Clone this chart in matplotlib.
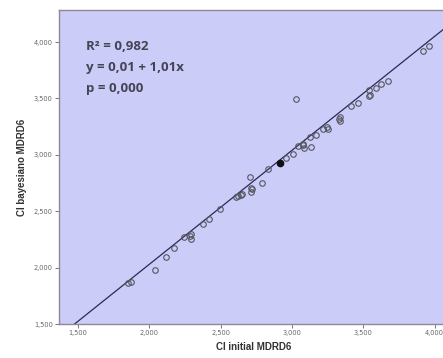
import matplotlib
matplotlib.use("Agg")
import matplotlib.pyplot as plt
import matplotlib.ticker as mticker
import numpy as np

# Data
x_initial = [1849, 1873, 2038, 2116, 2172, 2245, 2290, 2292, 2288, 2373, 2415, 2498,
             2608, 2622, 2640, 2651, 2705, 2710, 2712, 2722, 2792, 2832, 2958, 3009,
             3028, 3040, 3080, 3084, 3076, 3127, 3130, 3165, 3219, 3248, 3252,
             3335, 3338, 3330, 3417, 3465, 3542, 3542, 3547, 3590, 3623, 3670, 3920, 3960]
y_bayes = [1863, 1875, 1983, 2096, 2175, 2269, 2296, 2258, 2281, 2384, 2429, 2520,
           2626, 2634, 2642, 2650, 2803, 2703, 2673, 2694, 2753, 2871, 2968, 3009,
           3499, 3077, 3100, 3062, 3085, 3160, 3068, 3175, 3225, 3245, 3230,
           3334, 3304, 3322, 3431, 3458, 3573, 3520, 3534, 3593, 3628, 3652, 3917, 3962]
x_filled = [2917]
y_filled = [2924]
intercept = 10.0
slope = 1.01
stats_lines = ["R\u00b2 = 0,982", "y = 0,01 + 1,01x", "p = 0,000"]
x_ticks = [1500, 2000, 2500, 3000, 3500, 4000]
y_ticks = [1500, 2000, 2500, 3000, 3500, 4000]

fig = plt.figure(figsize=(4.43, 3.58), dpi=100)
ax = fig.add_axes([59/443, 1-324/358, 1-59/443+0.01, (324-10)/358])
ax.set_facecolor("#ccccf8")
ax.set_xlim(1366, 4090)
ax.set_ylim(1500, 4284)

xs = np.array(ax.get_xlim())
ax.plot(xs, intercept + slope * xs, color="#2a2a55", lw=0.9, zorder=2)

ax.plot(x_initial, y_bayes, linestyle="none", marker="o", markersize=4.0,
        markerfacecolor="none", markeredgecolor="#555560", markeredgewidth=0.8, zorder=3)
ax.plot(x_filled, y_filled, linestyle="none", marker="o", markersize=4.5,
        markerfacecolor="#111111", markeredgecolor="#111111", zorder=4)

fmt = mticker.FuncFormatter(lambda v, p: f"{int(v):,}")
ax.xaxis.set_major_formatter(fmt)
ax.yaxis.set_major_formatter(fmt)
ax.set_xticks(x_ticks)
ax.set_yticks(y_ticks)
ax.tick_params(axis="both", labelsize=4.8, labelcolor="#666666", color="#777777",
               length=3, width=0.7, direction="out", pad=1.5)
for s in ["left", "bottom", "top"]:
    ax.spines[s].set_color("#8a8a9a")
    ax.spines[s].set_linewidth(1.0)
ax.spines["right"].set_visible(False)

ax.set_xlabel("CI initial MDRD6", fontsize=7, fontweight="bold", color="#333333",
              family="Liberation Sans", labelpad=4)
ax.set_ylabel("CI bayesiano MDRD6", fontsize=7, fontweight="bold", color="#333333",
              family="Liberation Sans", labelpad=5)

for i, t in enumerate(stats_lines):
    ax.text(0.07, 0.885 - i * 0.067, t, transform=ax.transAxes, fontsize=9.5,
            fontweight="bold", color="#444455", family="Open Sans", va="center")

fig.savefig("out.png", dpi=100)
